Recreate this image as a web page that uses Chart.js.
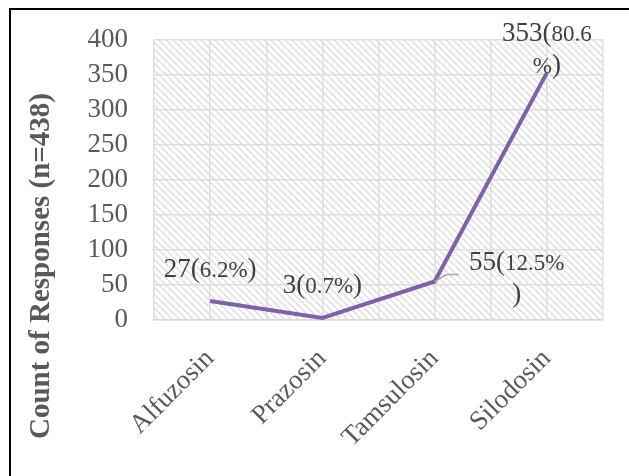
<!DOCTYPE html>
<html>
<head>
<meta charset="utf-8">
<script src="https://cdn.jsdelivr.net/npm/chart.js@4"></script>
<style>
  html, body { margin: 0; padding: 0; background: #ffffff; }
  #wrap { width: 629px; height: 476px; position: relative; }
</style>
</head>
<body>
<div id="wrap"><canvas id="c" width="629" height="476"></canvas></div>
<script>
// ---- data ----
const categories = ['Alfuzosin', 'Prazosin', 'Tamsulosin', 'Silodosin'];
const counts = [27, 3, 55, 353];
const percents = ['6.2', '0.7', '12.5', '80.6'];
const yTicks = [0, 50, 100, 150, 200, 250, 300, 350, 400];
const yTitle = 'Count of Responses (n=438)';

// ---- label layout (style, not data) ----
const labelWrapAt = [null, null, 8, 8];           // character index where label wraps
const labelDx = [0, 0, 82, 0];                     // offset of label centre from point
const labelDy = [-24, -25, -12, -32];              // baseline of first line relative to point

const SERIF = '"Liberation Serif", "Times New Roman", serif';
const BIG = '27px ' + SERIF;
const SMALL = '23px ' + SERIF;

const hatchCanvas = (function () {
  const s = 7;
  const c = document.createElement('canvas');
  c.width = s; c.height = s;
  const g = c.getContext('2d');
  g.fillStyle = '#ffffff';
  g.fillRect(0, 0, s, s);
  g.strokeStyle = '#dddddd';
  g.lineWidth = 1.5;
  for (const k of [-s, 0, s]) {
    g.beginPath();
    g.moveTo(k, 0);
    g.lineTo(k + s, s);
    g.stroke();
  }
  return c;
})();

const decor = {
  id: 'decor',
  beforeDraw(chart) {
    const ctx = chart.ctx;
    const a = chart.chartArea;
    ctx.save();
    ctx.fillStyle = '#ffffff';
    ctx.fillRect(0, 0, chart.width, chart.height);
    ctx.fillStyle = ctx.createPattern(hatchCanvas, 'repeat');
    ctx.fillRect(a.left, a.top, a.right - a.left, a.bottom - a.top);
    ctx.restore();
  },
  afterDatasetsDraw(chart) {
    const ctx = chart.ctx;
    const meta = chart.getDatasetMeta(0);
    ctx.save();
    // leader line for Tamsulosin label
    const p2 = meta.data[2];
    ctx.strokeStyle = '#a6a6a6';
    ctx.lineWidth = 1.5;
    ctx.beginPath();
    ctx.moveTo(p2.x, p2.y);
    ctx.lineTo(p2.x + 12, p2.y - 7);
    ctx.lineTo(p2.x + 24, p2.y - 7);
    ctx.stroke();

    ctx.fillStyle = '#404040';
    ctx.textBaseline = 'alphabetic';
    ctx.textAlign = 'left';
    counts.forEach((v, i) => {
      const pt = meta.data[i];
      const cStr = String(v);
      const full = cStr + '(' + percents[i] + '%)';
      const fonts = [];
      for (let k = 0; k < full.length; k++) {
        const inPct = k > cStr.length && k < full.length - 1;
        fonts.push(inPct ? SMALL : BIG);
      }
      const lines = [];
      const w = labelWrapAt[i];
      if (w == null) lines.push([0, full.length]);
      else { lines.push([0, w]); lines.push([w, full.length]); }
      lines.forEach((ln, li) => {
        let width = 0;
        const widths = [];
        for (let k = ln[0]; k < ln[1]; k++) {
          ctx.font = fonts[k];
          const cw = ctx.measureText(full[k]).width;
          widths.push(cw);
          width += cw;
        }
        let x = pt.x + labelDx[i] - width / 2;
        const y = pt.y + labelDy[i] + li * 32;
        for (let k = ln[0]; k < ln[1]; k++) {
          ctx.font = fonts[k];
          ctx.fillText(full[k], x, y);
          x += widths[k - ln[0]];
        }
      });
    });
    ctx.restore();
  },
  afterDraw(chart) {
    const ctx = chart.ctx;
    ctx.save();
    ctx.fillStyle = '#595959';
    ctx.font = 'bold 29px ' + SERIF;
    ctx.textAlign = 'center';
    ctx.textBaseline = 'middle';
    ctx.translate(42, 266);
    ctx.rotate(-Math.PI / 2);
    ctx.fillText(yTitle, 0, 0);
    ctx.restore();
    ctx.save();
    ctx.strokeStyle = '#000000';
    ctx.lineWidth = 2;
    ctx.strokeRect(10, 9, 700, 600);
    ctx.restore();
  }
};

new Chart(document.getElementById('c'), {
  type: 'line',
  data: {
    datasets: [{
      data: counts.map((v, i) => ({ x: i, y: v })),
      borderColor: '#7e62a6',
      borderWidth: 4,
      pointRadius: 0,
      tension: 0,
      fill: false
    }]
  },
  options: {
    responsive: false,
    animation: false,
    devicePixelRatio: 1,
    layout: { padding: { left: 0, top: 40, right: 26, bottom: 0 } },
    plugins: { legend: { display: false }, tooltip: { enabled: false }, title: { display: false } },
    scales: {
      x: {
        type: 'linear',
        min: -0.5,
        max: 3.5,
        afterFit(scale) {
          scale.height = 156;
          scale.paddingLeft = 0;
          scale.paddingRight = 0;
        },
        afterBuildTicks(scale) {
          const t = [];
          for (let v = -0.5; v <= 3.5001; v += 0.5) t.push({ value: v });
          scale.ticks = t;
        },
        grid: { color: '#dedede', lineWidth: 1.5, drawTicks: false },
        border: { color: '#d9d9d9', width: 1.5 },
        ticks: {
          autoSkip: false,
          minRotation: 45,
          maxRotation: 45,
          padding: 23,
          color: '#595959',
          font: { family: SERIF, size: 27 },
          callback: (v) => Number.isInteger(v) ? categories[v] : ''
        }
      },
      y: {
        min: 0,
        max: 400,
        afterFit(scale) {
          scale.width = 154;
          scale.paddingTop = 0;
          scale.paddingBottom = 0;
        },
        afterBuildTicks(scale) { scale.ticks = yTicks.map(v => ({ value: v })); },
        grid: { color: '#dedede', lineWidth: 1.5, drawTicks: false },
        border: { display: false },
        ticks: {
          autoSkip: false,
          padding: 26,
          color: '#595959',
          font: { family: SERIF, size: 27 }
        }
      }
    }
  },
  plugins: [decor]
});
</script>
</body>
</html>
